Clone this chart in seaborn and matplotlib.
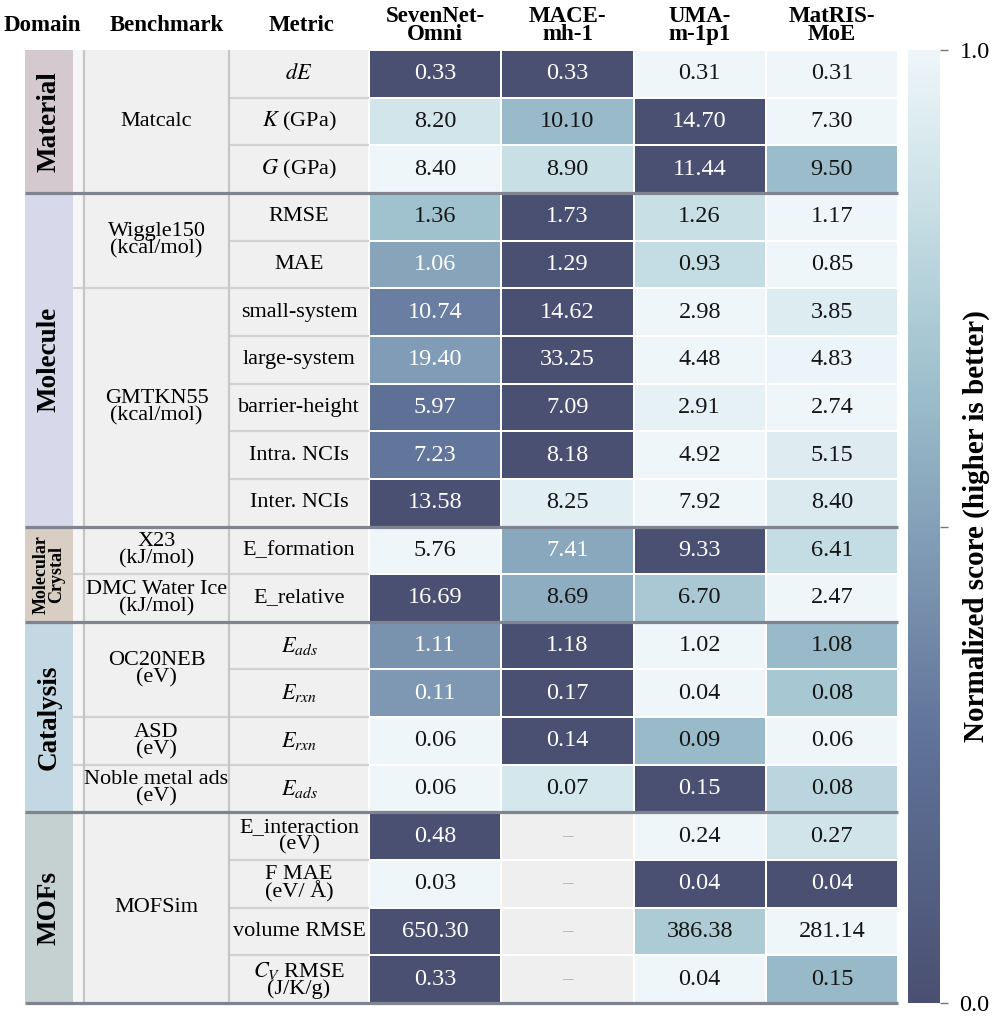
import numpy as np
import pandas as pd
import matplotlib
matplotlib.use("Agg")
import matplotlib.pyplot as plt
import seaborn as sns
from matplotlib.colors import LinearSegmentedColormap
from matplotlib.patches import Rectangle

# ---------------- data ----------------
models = ["SevenNet-\nOmni", "MACE-\nmh-1", "UMA-\nm-1p1", "MatRIS-\nMoE"]

domains = ["Material", "Molecule", "Molecular\nCrystal", "Catalysis", "MOFs"]
domain_rows = [3, 7, 2, 4, 4]
domain_colors = ["#d5c9d0", "#d7d9ea", "#d9cec3", "#c3d8e2", "#c4d1d0"]

benchmarks = ["Matcalc", "Wiggle150\n(kcal/mol)", "GMTKN55\n(kcal/mol)",
              "X23\n(kJ/mol)", "DMC Water Ice\n(kJ/mol)", "OC20NEB\n(eV)",
              "ASD\n(eV)", "Noble metal ads\n(eV)", "MOFSim"]
bench_rows = [3, 2, 5, 1, 1, 2, 1, 1, 4]

metrics = [r"$dE$", r"$K$ (GPa)", r"$G$ (GPa)",
           "RMSE", "MAE",
           "small-system", "large-system", "barrier-height", "Intra. NCIs", "Inter. NCIs",
           "E_formation", "E_relative",
           r"$E_{ads}$", r"$E_{rxn}$", r"$E_{rxn}$", r"$E_{ads}$",
           "E_interaction\n(eV)", "F MAE\n(eV/ Å)", "volume RMSE", r"$C_V$ RMSE" + "\n(J/K/g)"]

sevennet = [0.33, 8.20, 8.40, 1.36, 1.06, 10.74, 19.40, 5.97, 7.23, 13.58,
            5.76, 16.69, 1.11, 0.11, 0.06, 0.06, 0.48, 0.03, 650.30, 0.33]
mace = [0.33, 10.10, 8.90, 1.73, 1.29, 14.62, 33.25, 7.09, 8.18, 8.25,
        7.41, 8.69, 1.18, 0.17, 0.14, 0.07, np.nan, np.nan, np.nan, np.nan]
uma = [0.31, 14.70, 11.44, 1.26, 0.93, 2.98, 4.48, 2.91, 4.92, 7.92,
       9.33, 6.70, 1.02, 0.04, 0.09, 0.15, 0.24, 0.04, 386.38, 0.04]
matris = [0.31, 7.30, 9.50, 1.17, 0.85, 3.85, 4.83, 2.74, 5.15, 8.40,
          6.41, 2.47, 1.08, 0.08, 0.06, 0.08, 0.27, 0.04, 281.14, 0.15]

# ---------------- prep ----------------
raw = pd.DataFrame({m: v for m, v in zip(models, [sevennet, mace, uma, matris])})
rmax = raw.max(axis=1)
rmin = raw.min(axis=1)
norm = raw.rsub(rmax, axis=0).div(rmax - rmin, axis=0)   # lower error -> higher score

cmap = LinearSegmentedColormap.from_list(
    "slate",
    [(0.0, "#4a5072"), (0.28, "#607399"), (0.5, "#84a0b8"),
     (0.65, "#9dbfcc"), (0.85, "#cbe1e7"), (1.0, "#eef6f9")])

plt.rcParams["font.family"] = ["Liberation Serif", "DejaVu Serif"]
plt.rcParams["mathtext.fontset"] = "stix"

fig = plt.figure(figsize=(9.96, 10.23), dpi=100)
W, H = 996, 1023
x0, x1, y0, y1 = 25, 898, 50, 1003
ax = fig.add_axes([x0 / W, 1 - y1 / H, (x1 - x0) / W, (y1 - y0) / H])
cax = fig.add_axes([908 / W, 1 - y1 / H, 32 / W, (y1 - y0) / H])
ax.set_facecolor("#efefef")

sns.heatmap(norm.values, ax=ax, cbar_ax=cax, cmap=cmap, vmin=0, vmax=1,
            linewidths=1.2, linecolor="white", xticklabels=False, yticklabels=False,
            cbar_kws={"ticks": [0, 0.5, 1.0]})

colw = 132.25
xl = -(369 - x0) / colw          # left edge of table
xd = -(369 - 73) / colw          # end of domain band
xs = -(369 - 84) / colw          # end of strip
xb = -(369 - 229) / colw         # end of benchmark column
nrows = len(metrics)
ax.set_xlim(xl, 4)
ax.set_ylim(nrows, 0)

# backgrounds for label columns
ax.add_patch(Rectangle((xd, 0), xs - xd, nrows, color="#f6f6f6", zorder=0.5, lw=0))
ax.add_patch(Rectangle((xs, 0), 0 - xs, nrows, color="#f0f0f0", zorder=0.5, lw=0))

# domains
start = 0
dom_bounds = []
for name, n, c in zip(domains, domain_rows, domain_colors):
    ax.add_patch(Rectangle((xl, start), xd - xl, n, color=c, zorder=0.6, lw=0))
    fs = 13 if "\n" in name else 19.5
    ax.text((xl + xd) / 2, start + n / 2, name, rotation=90, ha="center", va="center",
            fontsize=fs, fontweight="bold", linespacing=0.85, zorder=3)
    start += n
    dom_bounds.append(start)

# benchmarks
start = 0
bench_bounds = []
for name, n in zip(benchmarks, bench_rows):
    ax.text((xs + xb) / 2, start + n / 2, name, ha="center", va="center",
            fontsize=16, linespacing=0.88, zorder=3)
    start += n
    bench_bounds.append(start)

# metrics
for i, m in enumerate(metrics):
    ax.text(xb / 2, i + 0.5, m, ha="center", va="center", fontsize=16,
            linespacing=0.82, zorder=3)

# thin grid lines in label area
thin = "#d2d2d2"
for i in range(1, nrows):
    if i in dom_bounds:
        continue
    ax.plot([xb, 0], [i, i], color=thin, lw=1.6, zorder=2, solid_capstyle="butt")
for b in bench_bounds:
    if b in dom_bounds:
        continue
    ax.plot([xd, xb], [b, b], color=thin, lw=1.6, zorder=2, solid_capstyle="butt")
for xv in (xs, xb):
    ax.plot([xv, xv], [0, nrows], color="#c6c6c6", lw=1.6, zorder=2, solid_capstyle="butt")

# thick group separators
for b in dom_bounds:
    ax.plot([xl, 4], [b, b], color="#7f8490", lw=2.3, zorder=4,
            solid_capstyle="butt", clip_on=False)

# cell annotations
for j, m in enumerate(models):
    for i in range(nrows):
        v = raw.iloc[i, j]
        if np.isnan(v):
            ax.text(j + 0.5, i + 0.5, "–", ha="center", va="center",
                    fontsize=15, color="#b0b0b0", zorder=3)
        else:
            s = norm.iloc[i, j]
            ax.text(j + 0.5, i + 0.5, f"{v:.2f}", ha="center", va="center",
                    fontsize=17.5, color="white" if s < 0.55 else "#151515", zorder=3)

# headers
hy = -0.52
for txt, xc in [("Domain", (xl + xd) / 2 - 0.05), ("Benchmark", (xs + xb) / 2 + 0.08),
                ("Metric", xb / 2 + 0.02)]:
    ax.text(xc, hy, txt, ha="center", va="center", fontsize=16.5, fontweight="bold",
            clip_on=False)
for j, m in enumerate(models):
    ax.text(j + 0.5, hy, m, ha="center", va="center", fontsize=16.5, fontweight="bold",
            linespacing=0.82, clip_on=False)

# colorbar
cbar = ax.collections[0].colorbar
cbar.outline.set_visible(False)
cbar.set_ticks([0, 0.5, 1.0])
cbar.set_ticklabels(["0.0", "", "1.0"])
cax.tick_params(labelsize=17.5, length=6, width=1, color="#777777", pad=8)
cax.set_ylabel("Normalized score (higher is better)", fontsize=21, fontweight="bold",
               rotation=90)
cax.yaxis.set_label_coords(2.15, 0.5)
cax.yaxis.label.set_va("center")
cax.yaxis.label.set_ha("center")

fig.savefig("out.png", dpi=100, facecolor="white")
